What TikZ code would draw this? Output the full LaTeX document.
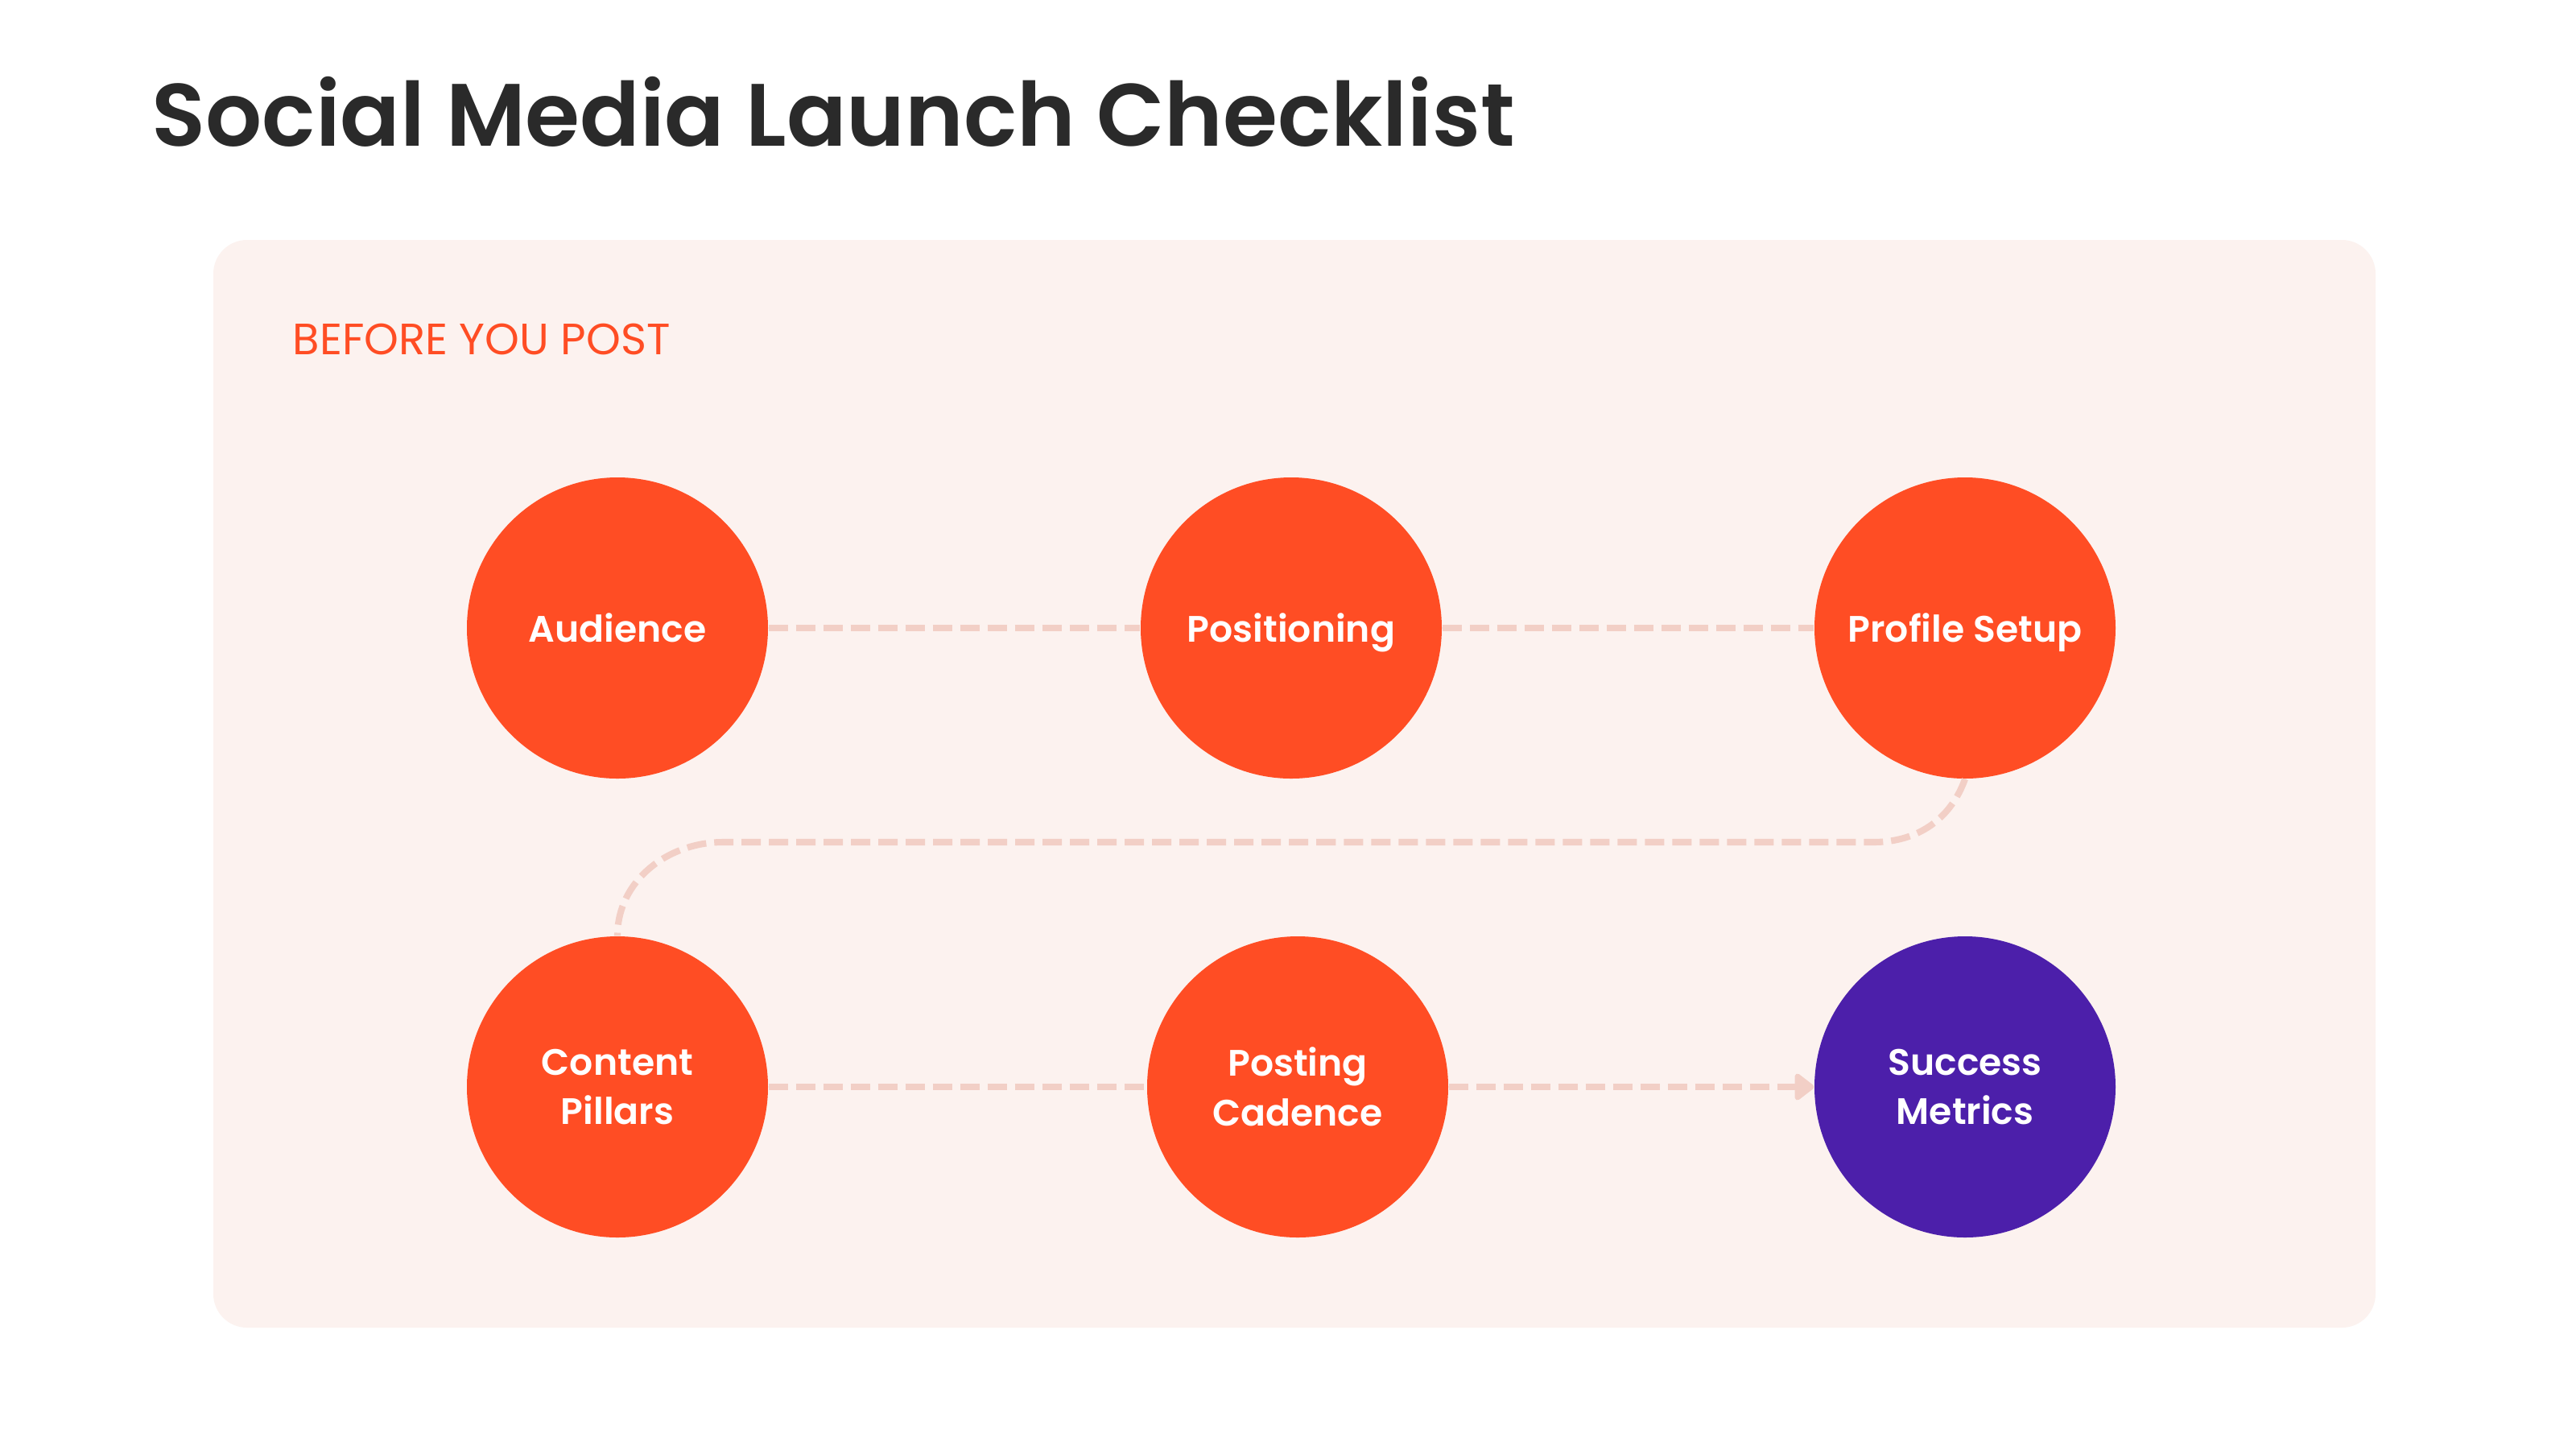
\documentclass[tikz,border=0pt]{standalone}
\usepackage{fontspec}
\setmainfont{Poppins}
\newfontfamily\semibold{Poppins SemiBold}
\usepackage{tikz}
\usetikzlibrary{arrows.meta, positioning}

\definecolor{stepred}{HTML}{FF4D24}
\definecolor{steppurple}{HTML}{4C1FAA}
\definecolor{panelbg}{HTML}{FCF2EF}
\definecolor{linkpink}{HTML}{F2CFC6}
\definecolor{titlegray}{HTML}{2A2A2A}

\begin{document}
\begin{tikzpicture}[>=Stealth,
   stepdot/.style={circle,fill=stepred,minimum size=3.74cm,inner sep=0pt,
     text=white,align=center,font=\semibold\fontsize{13}{17.6}\selectfont},
   oneline/.style={stepdot,text depth=0pt},
   goal/.style={stepdot,fill=steppurple},
   link/.style={line width=2.3pt,linkpink,dash pattern=on 0.24cm off 0.1cm}]
  % canvas and panel
  \useasboundingbox[fill=white] (0,0) rectangle (32,-18);
  \fill[panelbg,rounded corners=0.42cm] (2.65,-2.98) rectangle (29.51,-16.49);
  % headings
  \node[anchor=base west,inner sep=0pt,text=titlegray,
        font=\semibold\fontsize{31.3}{37}\selectfont] (title) at (1.88,-1.81)
        {Social Media Launch Checklist};
  \node[anchor=base west,inner sep=0pt,text=stepred,
        font=\fontsize{15.5}{19}\selectfont] (phase) at (3.63,-4.40) {BEFORE YOU POST};
  % steps
  \node[oneline] (aud) at (7.67,-7.80) {Audience};
  \node[oneline] (pos) at (16.04,-7.80) {Positioning};
  \node[oneline] (prof) at (24.41,-7.80) {Profile Setup};
  \node[stepdot] (pill) at (7.67,-13.50) {Content\\Pillars};
  \node[stepdot] (cad) at (16.12,-13.50) {Posting\\Cadence};
  \node[goal] (met) at (24.41,-13.50) {Success\\Metrics};
  % bends of the return path
  \coordinate (bendR) at (23.27,-10.46);
  \coordinate (bendL) at (8.98,-10.46);
  % connectors
  \draw[link] (aud) -- (pos);
  \draw[link] (pos) -- (prof);
  \draw[link] (prof.south) to[out=-110,in=0] (bendR) -- (bendL)
        to[out=180,in=90] (pill.north);
  \draw[link] (pill) -- (cad);
  \draw[link,-{Triangle[length=0.26cm,width=0.38cm,round]}] (cad) -- (met);
\end{tikzpicture}
\end{document}
